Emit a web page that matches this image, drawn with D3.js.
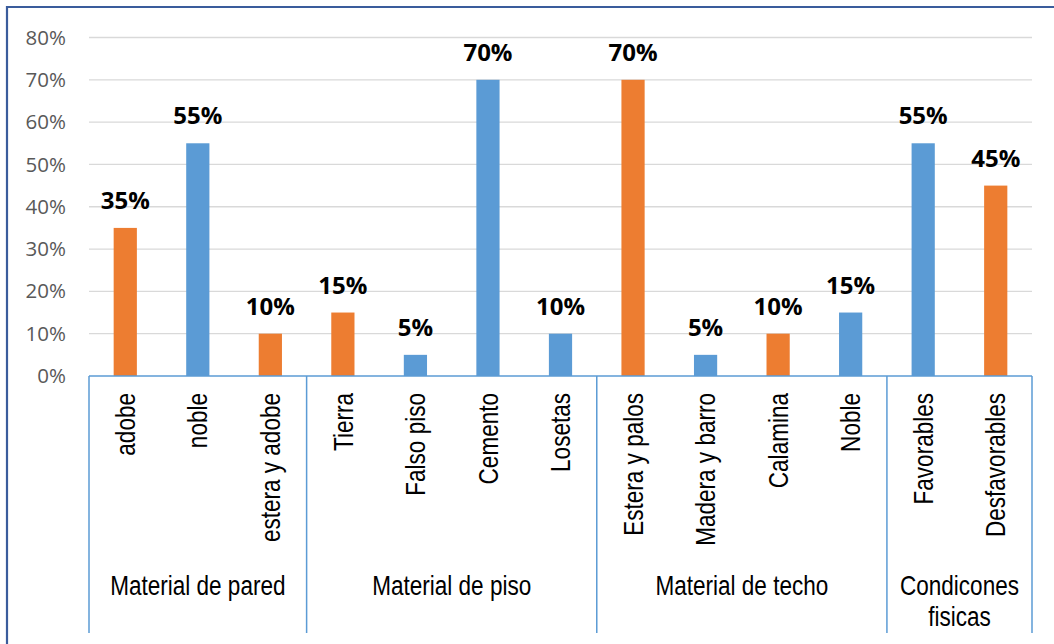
<!DOCTYPE html>
<html>
<head>
<meta charset="utf-8">
<script src="https://cdn.jsdelivr.net/npm/d3@7"></script>
<style>
  html, body { margin: 0; padding: 0; background: #fff; }
  svg { display: block; }
</style>
</head>
<body>
<div id="chart"></div>
<script>
// --- data ---
const categories = ["adobe", "noble", "estera y adobe", "Tierra", "Falso piso", "Cemento", "Losetas",
  "Estera y palos", "Madera y barro", "Calamina", "Noble", "Favorables", "Desfavorables"];
const values = [0.35, 0.55, 0.10, 0.15, 0.05, 0.70, 0.10, 0.70, 0.05, 0.10, 0.15, 0.55, 0.45];
const series = ["o", "b", "o", "o", "b", "b", "b", "o", "b", "o", "b", "b", "o"];
const groups = [
  { name: ["Material de pared"], n: 3 },
  { name: ["Material de piso"], n: 4 },
  { name: ["Material de techo"], n: 4 },
  { name: ["Condicones", "fisicas"], n: 2 }
];
const yTicks = [0, 0.1, 0.2, 0.3, 0.4, 0.5, 0.6, 0.7, 0.8];

(function () {
  const W = 1054, H = 644;
  const colors = { o: "#ED7D31", b: "#5B9BD5" };
  const pl = 89, pr = 1032, pt = 37.5, base = 376, pb = 633;
  const narrow = 0.82; // no Arial Narrow installed: squeeze Liberation Sans instead

  const svg = d3.select("#chart").append("svg").attr("width", W).attr("height", H);

  // outer frame (only top & left edges visible in the crop)
  svg.append("path").attr("d", `M7,${H} V7 H${W}`)
    .attr("fill", "none").attr("stroke", "#3A5C9C").attr("stroke-width", 2.2);

  const x = d3.scaleBand().domain(categories).range([pl, pr]).paddingInner(0.68).paddingOuter(0.34);
  const band = d3.scaleBand().domain(categories).range([pl, pr]);
  const y = d3.scaleLinear().domain([0, 0.8]).range([base, pt]);

  // gridlines
  svg.append("g").selectAll("line").data(yTicks.filter(d => d > 0)).join("line")
    .attr("x1", pl).attr("x2", pr)
    .attr("y1", d => y(d)).attr("y2", d => y(d))
    .attr("stroke", "#D9D9D9").attr("stroke-width", 1.3);

  // y axis labels
  const yAxis = d3.axisLeft(y).tickValues(yTicks).tickFormat(d3.format(".0%")).tickSize(0).tickPadding(23);
  const gy = svg.append("g").attr("transform", `translate(${pl},0)`).call(yAxis);
  gy.select(".domain").remove();
  gy.selectAll("text").attr("font-family", "'Open Sans', sans-serif").attr("font-size", 20.5)
    .attr("fill", "#595959");

  // bars
  svg.append("g").selectAll("rect").data(categories).join("rect")
    .attr("x", d => x(d)).attr("width", x.bandwidth())
    .attr("y", (d, i) => y(values[i])).attr("height", (d, i) => base - y(values[i]))
    .attr("fill", (d, i) => colors[series[i]]);

  // data labels
  svg.append("g").selectAll("text").data(categories).join("text")
    .attr("x", d => band(d) + band.bandwidth() / 2)
    .attr("y", (d, i) => y(values[i]) - 19)
    .attr("text-anchor", "middle")
    .attr("font-family", "'Open Sans', sans-serif").attr("font-weight", "bold").attr("font-size", 24)
    .attr("fill", "#000")
    .text((d, i) => d3.format(".0%")(values[i]));

  // category axis line
  const axisColor = "#5B9BD5";
  svg.append("line").attr("x1", pl).attr("x2", pr).attr("y1", base).attr("y2", base)
    .attr("stroke", axisColor).attr("stroke-width", 1.5);

  // group separators
  let idx = 0;
  const bounds = [0];
  groups.forEach(g => { idx += g.n; bounds.push(idx); });
  const bx = b => b < categories.length ? band(categories[b]) : pr;
  svg.append("g").selectAll("line").data(bounds).join("line")
    .attr("x1", bx).attr("x2", bx)
    .attr("y1", base).attr("y2", pb)
    .attr("stroke", axisColor).attr("stroke-width", 1.5);

  const labelFont = "'Liberation Sans', Arial, sans-serif";

  // rotated category labels
  svg.append("g").selectAll("text").data(categories).join("text")
    .attr("transform", d => `translate(${band(d) + band.bandwidth() / 2},393) rotate(-90) scale(${narrow},1)`)
    .attr("dy", "0.35em")
    .attr("text-anchor", "end")
    .attr("font-family", labelFont).attr("font-size", 27.5).attr("fill", "#000")
    .text(d => d);

  // group labels
  groups.forEach((g, gi) => {
    const cx = (bx(bounds[gi]) + bx(bounds[gi + 1])) / 2;
    const t = svg.append("text")
      .attr("transform", `translate(${cx},595) scale(${narrow},1)`)
      .attr("text-anchor", "middle")
      .attr("font-family", labelFont).attr("font-size", 27.5).attr("fill", "#000");
    g.name.forEach((line, li) => {
      t.append("tspan").attr("x", 0).attr("dy", li === 0 ? 0 : 31).text(line);
    });
  });
})();
</script>
</body>
</html>
